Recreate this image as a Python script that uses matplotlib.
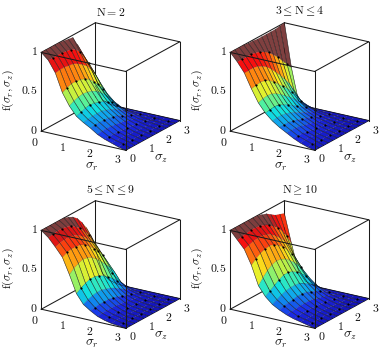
import numpy as np
import matplotlib
matplotlib.use('Agg')
import matplotlib.pyplot as plt
from matplotlib.colors import LinearSegmentedColormap

plt.rcParams['mathtext.fontset'] = 'cm'

sigma_r = [0, 0.25, 0.5, 0.75, 1, 1.25, 1.5, 1.75, 2, 2.25, 2.5, 2.75, 3]
sigma_z = [0, 0.25, 0.5, 0.75, 1, 1.25, 1.5, 1.75, 2, 2.25, 2.5, 2.75, 3]

# rows are sigma_r, columns are sigma_z
f_n2 = [
    [1.00, 1.00, 1.00, 1.00, 1.00, .99, .98, .97, .85, .70, .57, .46, .20],
    [.92, .92, .92, .92, .91, .90, .87, .81, .72, .60, .47, .28, .04],
    [.78, .79, .79, .78, .77, .74, .70, .65, .57, .47, .34, .17, .01],
    [.55, .58, .60, .60, .59, .57, .53, .47, .40, .32, .22, .09, 0],
    [.40, .43, .45, .46, .45, .43, .40, .35, .29, .22, .14, .05, 0],
    [.29, .31, .33, .34, .33, .31, .29, .25, .20, .15, .09, .03, 0],
    [.23, .24, .25, .25, .25, .23, .21, .18, .14, .10, .06, .02, 0],
    [.18, .19, .19, .19, .18, .17, .15, .12, .09, .07, .04, .01, 0],
    [.12, .13, .13, .13, .12, .11, .10, .08, .06, .04, .02, .01, 0],
    [.08, .08, .08, .08, .07, .07, .06, .05, .04, .03, .01, .01, 0],
    [.05, .05, .05, .05, .04, .04, .03, .03, .02, .02, .01, 0, 0],
    [.02, .03, .03, .02, .02, .02, .02, .01, .01, .01, 0, 0, 0],
    [0, 0, 0, 0, 0, 0, 0, 0, 0, 0, 0, 0, 0],
]
f_n34 = [
    [1.00, 1.00, 1.00, 1.00, .99, .99, .98, .98, .98, .98, .98, .99, 1.00],
    [.90, .90, .90, .90, .89, .87, .84, .80, .74, .68, .60, .53, .45],
    [.78, .78, .78, .77, .74, .70, .64, .57, .50, .42, .33, .22, .05],
    [.60, .61, .62, .61, .58, .53, .47, .41, .35, .28, .20, .10, .01],
    [.44, .46, .47, .46, .43, .39, .34, .29, .24, .18, .12, .06, 0],
    [.33, .34, .35, .34, .31, .28, .24, .20, .16, .12, .08, .03, 0],
    [.25, .26, .26, .25, .23, .20, .17, .14, .11, .08, .05, .02, 0],
    [.19, .19, .19, .18, .16, .14, .12, .10, .07, .05, .03, .01, 0],
    [.14, .14, .14, .13, .11, .10, .08, .06, .05, .03, .02, .01, 0],
    [.09, .09, .09, .08, .07, .06, .05, .04, .03, .02, .01, 0, 0],
    [.05, .06, .06, .05, .04, .04, .03, .02, .02, .01, .01, 0, 0],
    [.02, .03, .03, .02, .02, .02, .01, .01, .01, 0, 0, 0, 0],
    [0, 0, 0, 0, 0, 0, 0, 0, 0, 0, 0, 0, 0],
]
f_n59 = [
    [1.00, 1.00, 1.00, 1.00, 1.00, 1.00, .98, .95, .90, .82, .72, .59, .39],
    [.93, .94, .95, .95, .94, .92, .88, .83, .76, .68, .58, .42, .10],
    [.83, .85, .86, .86, .85, .82, .78, .72, .65, .57, .46, .28, .03],
    [.72, .75, .76, .76, .75, .72, .67, .61, .54, .46, .35, .17, .01],
    [.52, .57, .60, .62, .61, .58, .53, .47, .40, .33, .24, .10, 0],
    [.30, .34, .37, .39, .39, .37, .34, .29, .24, .18, .12, .05, 0],
    [.18, .21, .23, .24, .24, .22, .20, .17, .13, .09, .06, .02, 0],
    [.12, .13, .14, .14, .14, .13, .11, .09, .07, .05, .03, .01, 0],
    [.07, .08, .08, .08, .08, .07, .06, .05, .04, .03, .02, .01, 0],
    [.04, .05, .05, .05, .04, .04, .03, .03, .02, .01, .01, 0, 0],
    [.02, .03, .03, .02, .02, .02, .02, .01, .01, .01, 0, 0, 0],
    [.01, .01, .01, .01, .01, .01, .01, 0, 0, 0, 0, 0, 0],
    [0, 0, 0, 0, 0, 0, 0, 0, 0, 0, 0, 0, 0],
]
f_n10 = [
    [1.00, 1.00, 1.00, 1.00, 1.00, 1.00, 1.00, .98, .96, .92, .88, .86, .84],
    [.90, .91, .92, .93, .93, .92, .90, .87, .82, .77, .70, .60, .48],
    [.80, .82, .84, .85, .85, .83, .80, .75, .69, .62, .52, .38, .15],
    [.62, .67, .71, .73, .74, .72, .68, .63, .56, .48, .38, .25, .04],
    [.38, .45, .51, .55, .57, .56, .53, .48, .42, .35, .26, .13, .01],
    [.26, .30, .34, .38, .41, .41, .39, .35, .30, .24, .17, .07, 0],
    [.18, .21, .24, .26, .27, .27, .26, .23, .19, .15, .10, .04, 0],
    [.13, .15, .16, .17, .18, .18, .17, .14, .12, .09, .05, .02, 0],
    [.09, .10, .10, .11, .11, .11, .10, .08, .07, .05, .03, .01, 0],
    [.06, .06, .07, .07, .07, .06, .06, .05, .04, .03, .01, .01, 0],
    [.04, .04, .04, .04, .04, .03, .03, .02, .02, .01, .01, 0, 0],
    [.02, .02, .02, .02, .02, .01, .01, .01, .01, 0, 0, 0, 0],
    [0, 0, 0, 0, 0, 0, 0, 0, 0, 0, 0, 0, 0],
]
titles = [r'$\mathrm{N}=2$', r'$3\leq\mathrm{N}\leq 4$', r'$5\leq\mathrm{N}\leq 9$', r'$\mathrm{N}\geq 10$']
ylabels = [r'$\mathrm{f}(\sigma_r,\sigma_z)$'] * 4
tick_labels = ['0', '1', '2', '3']
f_tick_labels = ['0', '0.5', '1']

# pixel position of the (0,0,0) corner of each box
origins = [(41, 131), (230, 131), (41, 309), (230, 309)]
title_pos = [(110.7, 12.5), (299.5, 11.5), (110.7, 190), (299.5, 190)]

cmap = LinearSegmentedColormap.from_list('jetbrown', [
    (0.00, '#1414b8'), (0.10, '#1c2ce8'), (0.22, '#1090f0'), (0.34, '#10e0e0'),
    (0.44, '#50f0a0'), (0.55, '#b0f050'), (0.64, '#f8f020'), (0.76, '#ff9a10'),
    (0.90, '#f81010'), (0.955, '#d01818'), (0.975, '#804040'), (1.00, '#7d3e3e'),
])

fig = plt.figure(figsize=(3.82, 3.55), dpi=100)
W, H = 382, 355


def put(x, y, s, size=8.5, **kw):
    fig.text(x / W, 1 - y / H, s, fontsize=size, color='#111111', ha=kw.pop('ha', 'center'), va='center', **kw)


def box_line(ax, a, b, z):
    ax.plot(*zip(a, b), color='#1a1a1a', lw=0.75, zorder=z)


R, Z = np.meshgrid(sigma_r, sigma_z, indexing='ij')
S = 160
for i, table in enumerate([f_n2, f_n34, f_n59, f_n10]):
    F = np.array(table)
    ox, oy = origins[i]
    # box centre on screen is origin + (69.5, -44.5)
    cx, cy = ox + 69.5, oy - 44.5
    left = cx - 0.5135 * S
    bottom = (H - cy) - 0.5135 * S
    ax = fig.add_axes([left / W, bottom / H, S / W, S / H], projection='3d', computed_zorder=False)
    ax.set_proj_type('ortho')
    ax.view_init(elev=20.6, azim=-57.3)
    ax.set_box_aspect((1, 1, 0.84))
    ax.set_xlim(0, 3)
    ax.set_ylim(0, 3)
    ax.set_zlim(0, 1)
    ax.set_axis_off()

    # back of the box
    box_line(ax, (0, 0, 0), (0, 3, 0), 1)
    box_line(ax, (0, 3, 0), (3, 3, 0), 1)
    box_line(ax, (3, 0, 0), (3, 3, 0), 1)
    box_line(ax, (0, 3, 0), (0, 3, 1), 1)
    box_line(ax, (0, 0, 1), (0, 3, 1), 1)
    box_line(ax, (0, 3, 1), (3, 3, 1), 1)

    ax.plot_surface(R, Z, F, facecolors=cmap(F), rstride=1, cstride=1, shade=False,
                    edgecolor=(0, 0, 0, 0.3), linewidth=0.25, zorder=2)
    for j in range(len(sigma_z)):
        ax.plot(R[:, j], Z[:, j], F[:, j], color='#101010', lw=0.4, alpha=0.75, zorder=3)
    ax.scatter(R[1:12:2, 1:12:2].ravel(), Z[1:12:2, 1:12:2].ravel(), F[1:12:2, 1:12:2].ravel(),
               s=2.5, c='black', linewidths=0, depthshade=False, zorder=4)

    # front of the box
    box_line(ax, (0, 0, 0), (3, 0, 0), 5)
    box_line(ax, (0, 0, 0), (0, 0, 1), 5)
    box_line(ax, (3, 0, 0), (3, 0, 1), 5)
    box_line(ax, (3, 3, 0), (3, 3, 1), 5)
    box_line(ax, (0, 0, 1), (3, 0, 1), 5)
    box_line(ax, (3, 0, 1), (3, 3, 1), 5)

    put(title_pos[i][0], title_pos[i][1], titles[i])
    for k, lab in enumerate(tick_labels):
        put(ox - 6.5 + 27.8 * k, oy + 11 + 5.7 * k, f'${lab}$')
        put(ox + 92 + 18 * k, oy + 27 - 9.3 * k, f'${lab}$')
    for k, lab in enumerate(f_tick_labels):
        put(ox - 3.5, oy - 0.5 - 39.5 * k, f'${lab}$', ha='right')
    put(ox + 51, oy + 35, r'$\sigma_r$', size=9.5)
    put(ox + 119.5, oy + 27, r'$\sigma_z$', size=9.5)
    put(ox - 33, oy - 41, ylabels[i], rotation=90)

fig.savefig('out.png', dpi=100, facecolor='white')
